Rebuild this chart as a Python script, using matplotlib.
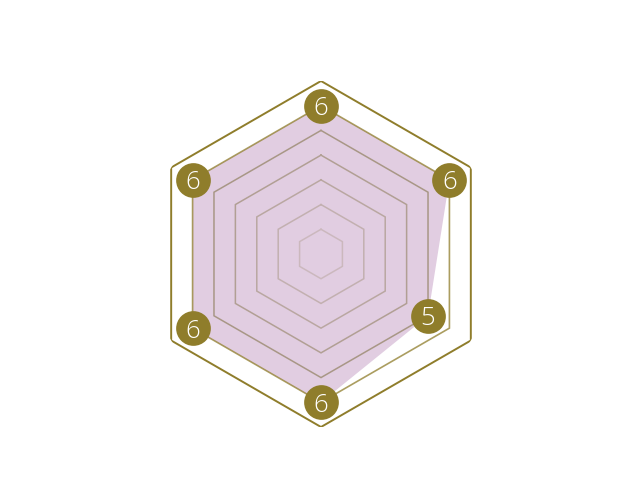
import numpy as np
import matplotlib
matplotlib.use("Agg")
from matplotlib import pyplot as plt

labels = ["6", "6", "5", "6", "6", "6"]
values = [6, 6, 5, 6, 6, 6]
levels = [1, 2, 3, 4, 5, 6, 7]

olive = "#8f7d2b"
fill_color = "#e1cde1"

n = len(values)
angles = np.linspace(0, 2 * np.pi, n, endpoint=False)
ang_closed = np.append(angles, angles[0])

fig = plt.figure(figsize=(6.4, 5.0), dpi=100)
ax = fig.add_axes([148 / 640, 73 / 500, 346 / 640, 346 / 500], projection="polar")
ax.set_theta_offset(np.pi / 2)
ax.set_theta_direction(-1)
ax.set_ylim(0, 7)
ax.axis("off")

# filled data area
vals_closed = np.append(values, values[0])
ax.fill(ang_closed, vals_closed, color=fill_color, zorder=1, lw=0)

# hexagonal grid, fading toward centre
for lv in levels:
    if lv == 7:
        col, a, lw = olive, 1.0, 1.4
    elif lv == 6:
        col, a, lw = olive, 0.75, 1.2
    else:
        col, a, lw = "#8a7a55", 0.15 + 0.1 * lv, 1.1
    ax.plot(ang_closed, [lv] * (n + 1), color=col, alpha=a, lw=lw, zorder=2,
            solid_joinstyle="miter")

# value badges
ax.plot(angles, values, "o", ms=25, color=olive, mec="none", zorder=3)
for t, v, lab in zip(angles, values, labels):
    ax.text(t, v, lab, color="white", fontsize=18.5, fontweight="light",
            family=["Open Sans", "DejaVu Sans"],
            ha="center", va="center_baseline", zorder=4)

fig.savefig("out.png", dpi=100)
